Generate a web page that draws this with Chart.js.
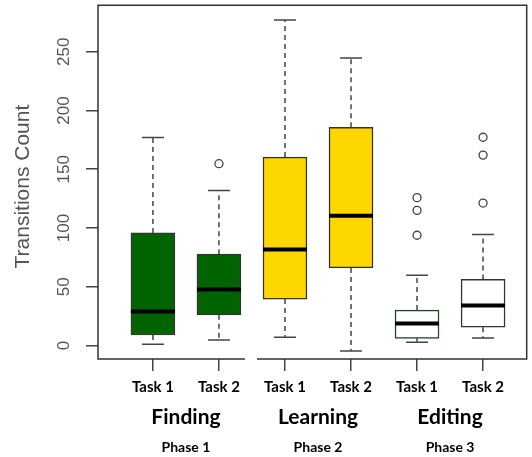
<!DOCTYPE html>
<html>
<head>
<meta charset="utf-8">
<script src="https://cdn.jsdelivr.net/npm/chart.js@4.4.1/dist/chart.umd.min.js"></script>
<style>
    html, body { margin: 0; padding: 0; background: #fff; }
    #wrap { width: 532px; height: 457px; }
</style>
</head>
<body>
<div id="wrap"><canvas id="boxChart"></canvas></div>
<script>
// values
const tasks = ['Task 1', 'Task 2', 'Task 1', 'Task 2', 'Task 1', 'Task 2'];
const positions = [1, 2, 3, 4, 5, 6];
const groups = ['Finding', 'Learning', 'Editing'];
const phases = ['Phase 1', 'Phase 2', 'Phase 3'];
const groupPositions = [1.5, 3.5, 5.5];
const yTicks = [0, 50, 100, 150, 200, 250];

const whiskerLow = [1, 4.7, 7, -4.7, 2.7, 6.4];
const q1 = [8.9, 26.1, 39.5, 66, 6.1, 15.5];
const median = [29, 47.7, 81.7, 110.5, 18.8, 34.1];
const q3 = [95.8, 77.7, 160.3, 185.7, 30.1, 56.2];
const whiskerHigh = [177, 132, 277, 244.7, 59.8, 94.4];
const outliers = [[], [154.7], [], [], [125.8, 115, 93.8], [177.2, 162, 121.2]];

const boxFill = ['#006400', '#006400', '#FFD700', '#FFD700', '#FFFFFF', '#FFFFFF'];
const boxLine = ['#333333', '#333333', '#333333', '#333333', '#1f4a1f', '#333333'];

const boxData = positions.map((p, i) => ({ x: p, y: [q1[i], q3[i]] }));
const outlierData = [];
outliers.forEach((list, i) => list.forEach(v => outlierData.push({ x: positions[i], y: v })));

const boxParts = {
    id: 'boxParts',
    beforeDatasetsDraw(chart) {
        const ctx = chart.ctx;
        const y = chart.scales.y;
        const bars = chart.getDatasetMeta(0).data;
        ctx.save();
        ctx.strokeStyle = '#444';
        ctx.lineWidth = 1.5;
        bars.forEach((bar, i) => {
            const x = bar.x;
            const half = bar.width / 4;
            ctx.setLineDash([5, 4]);
            ctx.beginPath();
            ctx.moveTo(x, y.getPixelForValue(q3[i]));
            ctx.lineTo(x, y.getPixelForValue(whiskerHigh[i]));
            ctx.moveTo(x, y.getPixelForValue(q1[i]));
            ctx.lineTo(x, y.getPixelForValue(whiskerLow[i]));
            ctx.stroke();
            ctx.setLineDash([]);
            ctx.beginPath();
            ctx.moveTo(x - half, y.getPixelForValue(whiskerHigh[i]));
            ctx.lineTo(x + half, y.getPixelForValue(whiskerHigh[i]));
            ctx.moveTo(x - half, y.getPixelForValue(whiskerLow[i]));
            ctx.lineTo(x + half, y.getPixelForValue(whiskerLow[i]));
            ctx.stroke();
        });
        ctx.restore();
    },
    afterDatasetsDraw(chart) {
        const ctx = chart.ctx;
        const y = chart.scales.y;
        const bars = chart.getDatasetMeta(0).data;
        ctx.save();
        ctx.strokeStyle = '#000';
        ctx.lineWidth = 4;
        bars.forEach((bar, i) => {
            const py = y.getPixelForValue(median[i]);
            ctx.beginPath();
            ctx.moveTo(bar.x - bar.width / 2, py);
            ctx.lineTo(bar.x + bar.width / 2, py);
            ctx.stroke();
        });
        ctx.restore();
    },
    afterDraw(chart) {
        const ctx = chart.ctx;
        const area = chart.chartArea;
        const x = chart.scales.x;
        const y = chart.scales.y;
        ctx.save();
        // plot frame, bottom edge broken between the first two groups
        ctx.strokeStyle = '#333';
        ctx.lineWidth = 1.5;
        const gap = x.getPixelForValue(2.5);
        ctx.beginPath();
        ctx.moveTo(gap - 7, area.bottom);
        ctx.lineTo(area.left, area.bottom);
        ctx.lineTo(area.left, area.top);
        ctx.lineTo(area.right, area.top);
        ctx.lineTo(area.right, area.bottom);
        ctx.lineTo(gap + 5, area.bottom);
        ctx.stroke();
        // rotated y tick labels
        ctx.fillStyle = '#555';
        ctx.font = '17px "Liberation Sans", Arial, sans-serif';
        ctx.textAlign = 'center';
        ctx.textBaseline = 'middle';
        yTicks.forEach(v => {
            ctx.save();
            ctx.translate(64, y.getPixelForValue(v));
            ctx.rotate(-Math.PI / 2);
            ctx.fillText(String(v), 0, 0);
            ctx.restore();
        });
        // y axis title
        ctx.font = '21px "Liberation Sans", Arial, sans-serif';
        ctx.translate(23, (y.getPixelForValue(0) + y.getPixelForValue(250)) / 2 - 12);
        ctx.rotate(-Math.PI / 2);
        ctx.fillText('Transitions Count', 0, 0);
        ctx.restore();
    }
};

function fixedTicks(values) {
    return scale => { scale.ticks = values.map(v => ({ value: v })); };
}

const xMin = 0.168;
const xMax = 6.661;

new Chart(document.getElementById('boxChart').getContext('2d'), {
    type: 'bar',
    data: {
        datasets: [{
            data: boxData,
            xAxisID: 'x',
            backgroundColor: boxFill,
            borderColor: boxLine,
            borderWidth: 1.5,
            borderSkipped: false,
            barThickness: 44,
            grouped: false
        }, {
            type: 'scatter',
            data: outlierData,
            xAxisID: 'x',
            pointRadius: 4,
            pointBorderWidth: 1.3,
            pointBackgroundColor: '#fff',
            pointBorderColor: '#444'
        }]
    },
    options: {
        responsive: true,
        maintainAspectRatio: false,
        animation: false,
        layout: { padding: { top: 4, right: 4, left: 0, bottom: 0 } },
        plugins: { legend: { display: false }, tooltip: { enabled: false } },
        scales: {
            x: {
                type: 'linear',
                position: 'bottom',
                offset: false,
                min: xMin,
                max: xMax,
                afterBuildTicks: fixedTicks(positions),
                afterFit: s => { s.height = 36; },
                border: { display: false },
                grid: { offset: false, drawOnChartArea: false, tickLength: 12, color: '#444', lineWidth: 1.5 },
                ticks: {
                    padding: 7,
                    color: '#000',
                    font: { family: 'Lato', weight: 'bold', size: 15 },
                    callback: (v, i) => tasks[i]
                }
            },
            groupAxis: {
                type: 'linear',
                position: 'bottom',
                offset: false,
                min: xMin,
                max: xMax,
                afterBuildTicks: fixedTicks(groupPositions),
                afterFit: s => { s.height = 35; },
                border: { display: false },
                grid: { offset: false, display: false, drawTicks: false },
                ticks: {
                    padding: 10,
                    color: '#000',
                    font: { family: 'Lato', weight: 'bold', size: 21 },
                    callback: (v, i) => groups[i]
                }
            },
            phaseAxis: {
                type: 'linear',
                position: 'bottom',
                offset: false,
                min: xMin,
                max: xMax,
                afterBuildTicks: fixedTicks(groupPositions),
                afterFit: s => { s.height = 27; },
                border: { display: false },
                grid: { offset: false, display: false, drawTicks: false },
                ticks: {
                    padding: 9,
                    color: '#000',
                    font: { family: 'Lato', weight: 'bold', size: 14 },
                    callback: (v, i) => phases[i]
                }
            },
            y: {
                min: -11.5,
                max: 289.5,
                afterBuildTicks: fixedTicks(yTicks),
                afterFit: s => { s.width = 98; },
                border: { display: false },
                grid: { drawOnChartArea: false, tickLength: 12, color: '#444', lineWidth: 1.5 },
                ticks: { display: false }
            }
        }
    },
    plugins: [boxParts]
});
</script>
</body>
</html>
